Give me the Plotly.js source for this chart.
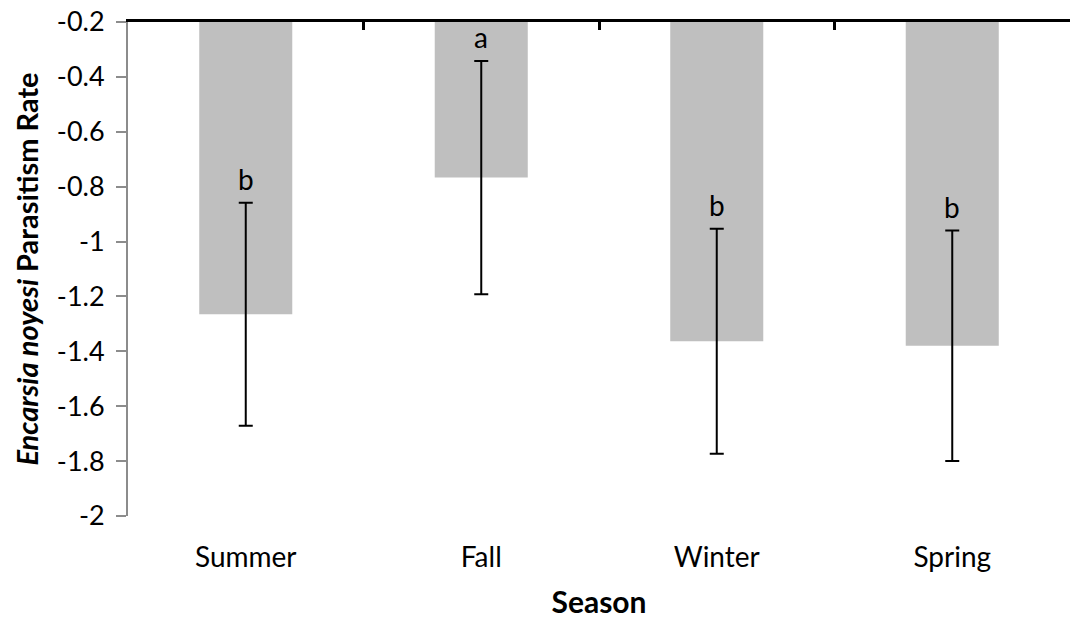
<!DOCTYPE html>
<html>
<head>
<meta charset="utf-8">
<script src="https://cdn.plot.ly/plotly-3.0.1.min.js"></script>
<style>html,body{margin:0;padding:0;background:#fff;}#chart{width:1076px;height:619px;}</style>
</head>
<body>
<div id="chart"></div>
<script>
const seasons = ["Summer", "Fall", "Winter", "Spring"];
const means = [-1.265, -0.767, -1.363, -1.38];
const errors = [0.406, 0.425, 0.41, 0.42];
const letters = ["b", "a", "b", "b"];
const yTickVals = [-2, -1.8, -1.6, -1.4, -1.2, -1, -0.8, -0.6, -0.4, -0.2];
const yTickText = ["-2", "-1.8", "-1.6", "-1.4", "-1.2", "-1", "-0.8", "-0.6", "-0.4", "-0.2"];

const FONT = "Lato, 'Open Sans', sans-serif";

const trace = {
  type: "bar",
  x: seasons,
  y: means,
  marker: {color: "#bfbfbf"},
  error_y: {type: "data", array: errors, visible: true, color: "#000", thickness: 2, width: 7},
  hoverinfo: "x+y",
  showlegend: false
};

// invisible companion trace so the top category axis (crossing at -0.2) is drawn
const topAxisTrace = {
  type: "scatter", x: seasons, y: means, xaxis: "x2", yaxis: "y",
  mode: "markers", marker: {opacity: 0}, hoverinfo: "skip", showlegend: false
};

const annotations = seasons.map((s, i) => ({
  x: s, y: means[i] + errors[i], xref: "x", yref: "y",
  text: letters[i], showarrow: false, yanchor: "bottom", yshift: 5,
  font: {family: FONT, size: 28, color: "#000"}
}));

const layout = {
  width: 1076, height: 619,
  margin: {l: 128, r: 6, t: 22, b: 103},
  paper_bgcolor: "#fff", plot_bgcolor: "#fff",
  bargap: 0.605,
  font: {family: FONT, size: 28, color: "#000"},
  xaxis: {
    type: "category", range: [-0.5, 3.5],
    showline: false, ticks: "", showgrid: false, zeroline: false,
    tickfont: {family: FONT, size: 28, color: "#000"},
    ticklabelstandoff: 22,
    title: {text: "<b>Season</b>", font: {family: FONT, size: 30, color: "#000"}, standoff: 22}
  },
  xaxis2: {
    overlaying: "x", side: "top", anchor: "y", type: "category", range: [-0.5, 3.5],
    showline: true, linecolor: "#000", linewidth: 3,
    ticks: "inside", tickson: "boundaries", ticklen: 8, tickwidth: 3, tickcolor: "#000",
    showticklabels: false, showgrid: false, zeroline: false
  },
  yaxis: {
    range: [-2, -0.2], tickvals: yTickVals, ticktext: yTickText,
    showline: true, linecolor: "#8c8c8c", linewidth: 2,
    ticks: "outside", ticklen: 10, tickwidth: 2, tickcolor: "#8c8c8c",
    showgrid: false, zeroline: false,
    tickfont: {family: FONT, size: 27, color: "#000"},
    ticklabelstandoff: 6,
    title: {text: "<b><i>Encarsia noyesi</i> Parasitism Rate</b>", font: {family: FONT, size: 29, color: "#000"}, standoff: 10}
  },
  annotations: annotations
};

Plotly.newPlot("chart", [trace, topAxisTrace], layout, {displayModeBar: false, staticPlot: true});
</script>
</body>
</html>
